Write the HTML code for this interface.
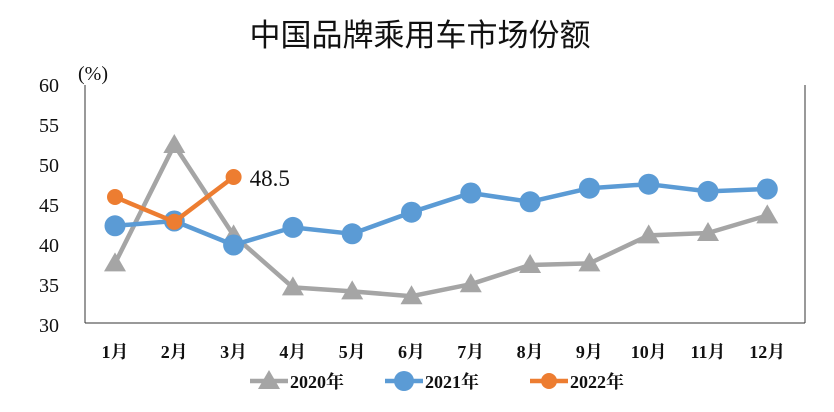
<!DOCTYPE html>
<html><head><meta charset="utf-8"><style>
body{margin:0;background:#fff;}
svg text{font-family:"Liberation Serif","Noto Serif CJK SC",serif;}
</style></head><body>
<svg width="834" height="407" xmlns="http://www.w3.org/2000/svg">
<text x="420" y="46" text-anchor="middle" font-size="31" fill="#111" style="font-family:'Liberation Sans','Noto Sans CJK SC',sans-serif">中国品牌乘用车市场份额</text>
<text x="78" y="80" font-size="20" fill="#111">(%)</text>
<g id="axes"></g>
<g id="series"></g>
<g id="legend"></g>
</svg>
<script>
const months=["1月","2月","3月","4月","5月","6月","7月","8月","9月","10月","11月","12月"];
const yTicks=[30,35,40,45,50,55,60];
const s2020=[37.7,52.5,41.2,34.7,34.2,33.6,35.1,37.5,37.7,41.2,41.5,43.7];
const s2021=[42.4,43.0,40.0,42.2,41.4,44.1,46.5,45.4,47.1,47.6,46.7,47.0];
const s2022=[46.0,42.9,48.5];
const seriesNames=["2020年","2021年","2022年"];
const NS="http://www.w3.org/2000/svg";
const X=i=>115+i*59.3, Y=v=>325-(v-30)*8;
function mk(t,a,p){const e=document.createElementNS(NS,t);for(const k in a)e.setAttribute(k,a[k]);p.appendChild(e);return e;}
const ax=document.getElementById('axes');
let l=mk('line',{x1:85,y1:85,x2:85,y2:323,stroke:'#333','stroke-width':1},ax);


l=mk('line',{x1:85,y1:323,x2:805,y2:323,stroke:'#333','stroke-width':1},ax);


l=mk('line',{x1:805,y1:85,x2:805,y2:323,stroke:'#333','stroke-width':1},ax);


yTicks.forEach(v=>{const t=mk('text',{x:59,y:Y(v)+7,'font-size':20,'text-anchor':'end',fill:'#111'},ax);t.textContent=v;

});
months.forEach((m,i)=>{const t=mk('text',{x:X(i),y:358,'font-size':18,'text-anchor':'middle','font-weight':'bold',fill:'#111'},ax);t.textContent=m;

});
const sg=document.getElementById('series');
function line(data,color,name){const p=mk('polyline',{points:data.map((v,i)=>X(i)+','+Y(v)).join(' '),fill:'none',stroke:color,'stroke-width':4.5,'stroke-linejoin':'round'},sg);

}
function tri(x,y,c,p){return mk('polygon',{points:`${x},${y-11} ${x-11},${y+8} ${x+11},${y+8}`,fill:c},p);}
line(s2020,'#a5a5a5','series-2020');
s2020.forEach((v,i)=>{const t=tri(X(i),Y(v),'#a5a5a5',sg);

});
line(s2021,'#5b9bd5','series-2021');
s2021.forEach((v,i)=>{const c=mk('circle',{cx:X(i),cy:Y(v),r:10.5,fill:'#5b9bd5'},sg);

});
line(s2022,'#ed7d31','series-2022');
s2022.forEach((v,i)=>{const c=mk('circle',{cx:X(i),cy:Y(v),r:8,fill:'#ed7d31'},sg);

});
const last=s2022.length-1;
const lb=mk('text',{x:X(last)+16,y:Y(s2022[last])+9,'font-size':23,fill:'#111'},sg);lb.textContent=s2022[last].toFixed(1);


const lg=document.getElementById('legend');
const lx=[250,385,530],cols=['#a5a5a5','#5b9bd5','#ed7d31'];
seriesNames.forEach((n,i)=>{const g=mk('g',{},lg);


mk('line',{x1:lx[i],y1:381,x2:lx[i]+38,y2:381,stroke:cols[i],'stroke-width':4.5},g);
if(i===0)tri(lx[i]+19,381,cols[i],g);else mk('circle',{cx:lx[i]+19,cy:381,r:i===1?10:8,fill:cols[i]},g);
const t=mk('text',{x:lx[i]+40,y:388,'font-size':18,'font-weight':'bold',fill:'#111'},g);t.textContent=n;});
</script>
</body></html>
